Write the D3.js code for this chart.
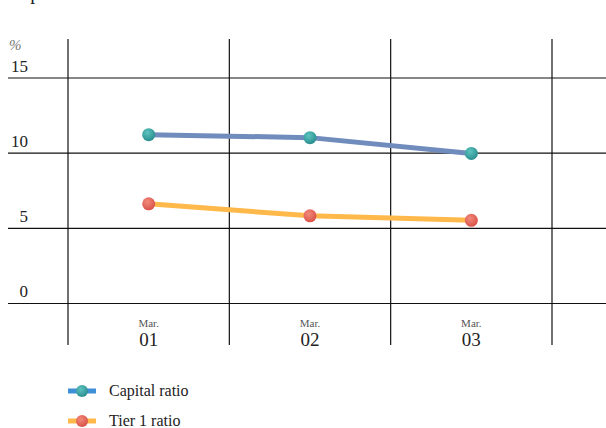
<!DOCTYPE html>
<html>
<head>
<meta charset="utf-8">
<script src="https://cdn.jsdelivr.net/npm/d3@7"></script>
<style>
  body { margin: 0; background: #fff; }
</style>
</head>
<body>
<svg class="graph"></svg>
<script>
var width = 606, height = 428;

// data
var months = ["01", "02", "03"];
var monthPrefix = "Mar.";
var capitalRatio = [11.2, 11.0, 9.95];
var tier1Ratio = [6.6, 5.8, 5.5];
var yTicks = [0, 5, 10, 15];
var seriesNames = ["Capital ratio", "Tier 1 ratio"];

var series = [
  {name: seriesNames[0], values: capitalRatio, line: "#6f8cbd", legendLine: "#3d8fd6", dot: ["#5ec4c0", "#2a8f8f"]},
  {name: seriesNames[1], values: tier1Ratio, line: "#ffb84a", legendLine: "#ffb84a", dot: ["#f28a7a", "#d9534a"]}
];

var svg = d3.select(".graph").attr("width", width).attr("height", height)
  .style("display", "block")
  .attr("font-family", "Liberation Serif, serif");

var defs = svg.append("defs");
series.forEach(function(s, i){
  var g = defs.append("radialGradient").attr("id", "dot" + i)
    .attr("cx", "40%").attr("cy", "35%").attr("r", "65%");
  g.append("stop").attr("offset", "0%").attr("stop-color", s.dot[0]);
  g.append("stop").attr("offset", "100%").attr("stop-color", s.dot[1]);
});

var xScale = d3.scaleBand().domain(months).range([68, 552]);
var yScale = d3.scaleLinear().domain([0, 15]).range([303, 77.5]);

// title, mostly above the top edge like in the reference
svg.append("text").attr("x", 8).attr("y", -1)
  .attr("font-size", 20).attr("fill", "#222").text("Capital ratios");

svg.append("text").attr("x", 9).attr("y", 50)
  .attr("font-size", 15).attr("font-style", "italic").attr("fill", "#777").text("%");

// horizontal grid
var gy = svg.append("g").attr("transform", "translate(606,0)");
gy.call(d3.axisLeft(yScale).tickValues(yTicks).tickSize(598).tickFormat(""));
gy.select(".domain").remove();
gy.selectAll(".tick line").attr("stroke", "#111").attr("stroke-width", 1.2);

svg.selectAll(".ylab").data(yTicks).enter().append("text")
  .attr("class", "ylab")
  .attr("x", 28).attr("y", function(d){ return yScale(d) - 6; })
  .attr("text-anchor", "end")
  .attr("font-size", 17).attr("fill", "#222")
  .text(function(d){ return d; });

// vertical grid lines at band edges
var edges = months.map(function(m){ return xScale(m); });
edges.push(xScale.range()[1]);
svg.selectAll(".vline").data(edges).enter().append("line")
  .attr("x1", function(d){ return d; }).attr("x2", function(d){ return d; })
  .attr("y1", 39).attr("y2", 345)
  .attr("stroke", "#111").attr("stroke-width", 1.2);

// x labels
var xl = svg.selectAll(".xlab").data(months).enter().append("g")
  .attr("transform", function(d){ return "translate(" + (xScale(d) + xScale.bandwidth() / 2) + ",0)"; });
xl.append("text").attr("y", 327).attr("text-anchor", "middle")
  .attr("font-size", 11).attr("fill", "#555").text(monthPrefix);
xl.append("text").attr("y", 346).attr("text-anchor", "middle")
  .attr("font-size", 19).attr("fill", "#222").text(function(d){ return d; });

var line = d3.line()
  .x(function(d, i){ return xScale(months[i]) + xScale.bandwidth() / 2; })
  .y(function(d){ return yScale(d); });

series.forEach(function(s, i){
  svg.append("path").datum(s.values)
    .attr("d", line)
    .attr("fill", "none").attr("stroke", s.line).attr("stroke-width", 5);
  svg.selectAll(".dot" + i).data(s.values).enter().append("circle")
    .attr("cx", function(d, j){ return xScale(months[j]) + xScale.bandwidth() / 2; })
    .attr("cy", function(d){ return yScale(d); })
    .attr("r", 6.5)
    .attr("fill", "url(#dot" + i + ")");
});

// legend
var legend = svg.selectAll(".legend").data(series).enter().append("g")
  .attr("transform", function(d, i){ return "translate(68," + (391 + i * 30) + ")"; });
legend.append("line").attr("x1", 0).attr("x2", 28).attr("y1", 0).attr("y2", 0)
  .attr("stroke", function(d){ return d.legendLine; }).attr("stroke-width", 5);
legend.append("circle").attr("cx", 14).attr("cy", 0).attr("r", 6)
  .attr("fill", function(d, i){ return "url(#dot" + i + ")"; });
legend.append("text").attr("x", 41).attr("y", 5)
  .attr("font-size", 16).attr("fill", "#222")
  .text(function(d){ return d.name; });
</script>
</body>
</html>
